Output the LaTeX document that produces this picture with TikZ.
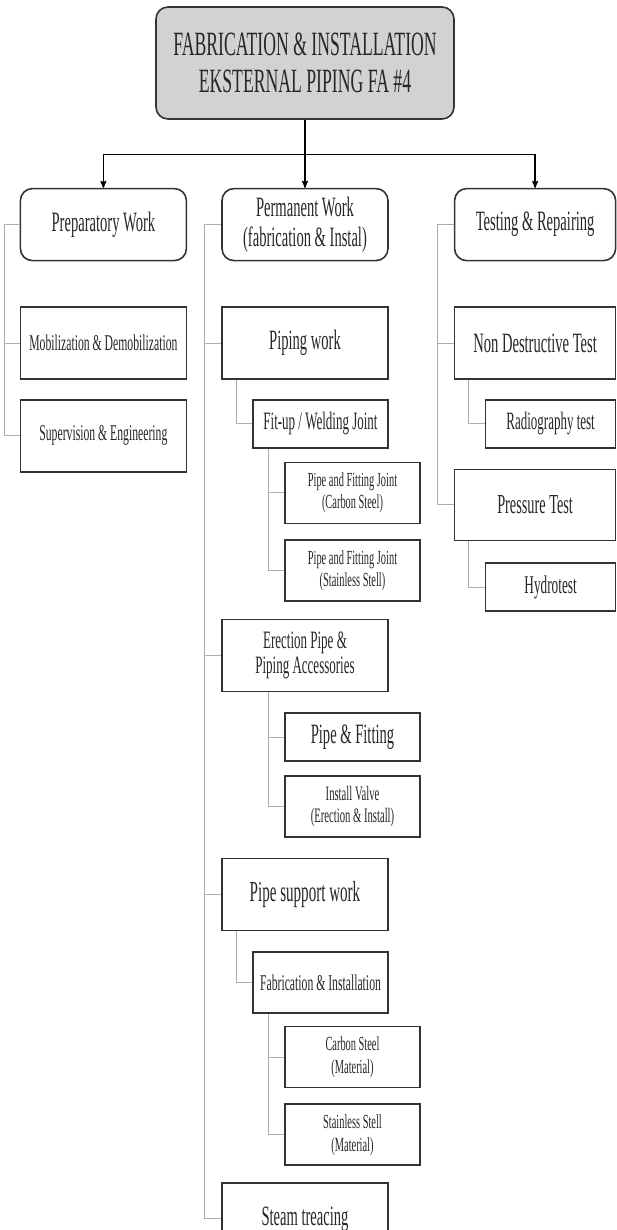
\documentclass[tikz,border=0pt]{standalone}
\usepackage{fontspec}
\setmainfont{Liberation Serif}[FakeStretch=0.52]
\usetikzlibrary{positioning, arrows}
\tikzset{
>=stealth', % arrow heads
every node/.style={text=black!85},
topbox/.style={draw=black!80, line width=1.6pt, rounded corners=12pt, fill=gray!35, minimum width=298pt, minimum height=112pt, align=center, font=\fontsize{34}{37}\selectfont},
headbox/.style={draw=black!80, line width=1.6pt, rounded corners=12pt, minimum width=166pt, minimum height=72pt, align=center, font=\fontsize{28}{30}\selectfont},
bigbox/.style={draw=black!80, line width=1.6pt, minimum width=166pt, minimum height=72pt, align=center, font=\fontsize{28}{30}\selectfont},
midbox/.style={draw=black!80, line width=1.6pt, minimum width=135pt, minimum height=48pt, align=center, font=\fontsize{25}{27}\selectfont},
smallbox/.style={draw=black!80, line width=1.6pt, minimum width=135pt, minimum height=61pt, align=center, font=\fontsize{20}{22}\selectfont},
branch/.style={draw=gray!65, line width=0.9pt}, % thin grey tree lines
arrow/.style={->, draw=black, line width=1.4pt},
}
\begin{document}
\begin{tikzpicture}[x=1pt, y=1pt]
\useasboundingbox (0,0) rectangle (616,-1230);
% root and the three work groups
\node[topbox] (root) at (305,-63) {FABRICATION \& INSTALLATION\\EKSTERNAL PIPING FA \#4};
\node[headbox, below=68pt of root] (perm) {Permanent Work\\(fabrication \& Instal)};
\node[headbox, left=34pt of perm] (prep) {Preparatory Work};
\node[headbox, right=65pt of perm, minimum width=161pt] (test) {Testing \& Repairing};

% preparatory work
\node[bigbox, below=45pt of prep, font=\fontsize{22.5}{24}\selectfont] (mobil) {Mobilization \& Demobilization};
\node[bigbox, below=19pt of mobil, font=\fontsize{22.5}{24}\selectfont] (superv) {Supervision \& Engineering};

% permanent work
\node[bigbox, below=45pt of perm] (pipwork) {Piping work};
\node[midbox, below=19pt of pipwork.south east, anchor=north east] (fitup) {Fit-up / Welding Joint};
\node[smallbox, below=13pt of fitup.south east, anchor=north east, xshift=32pt] (pfcs) {Pipe and Fitting Joint\\(Carbon Steel)};
\node[smallbox, below=15pt of pfcs] (pfss) {Pipe and Fitting Joint\\(Stainless Stell)};
\node[bigbox, below=17pt of pfss.south west, anchor=north west, xshift=-63pt, font=\fontsize{25}{25}\selectfont] (erect) {Erection Pipe \&\\Piping Accessories};
\node[midbox, below=20pt of erect.south east, anchor=north east, xshift=32pt, font=\fontsize{28}{30}\selectfont] (pf) {Pipe \& Fitting};
\node[smallbox, below=13pt of pf, font=\fontsize{20.5}{22}\selectfont] (valve) {Install Valve\\(Erection \& Install)};
\node[bigbox, below=20pt of valve.south west, anchor=north west, xshift=-63pt, font=\fontsize{29}{30}\selectfont] (support) {Pipe support work};
\node[smallbox, below=20pt of support.south east, anchor=north east, font=\fontsize{22.5}{24}\selectfont] (fabinst) {Fabrication \& Installation};
\node[smallbox, below=12pt of fabinst.south east, anchor=north east, xshift=32pt, font=\fontsize{20}{23}\selectfont] (cs) {Carbon Steel\\(Material)};
\node[smallbox, below=15pt of cs, font=\fontsize{20}{23}\selectfont] (ss) {Stainless Stell\\(Material)};
\node[bigbox, below=16pt of ss.south west, anchor=north west, xshift=-63pt] (steam) {Steam treacing};

% testing and repairing
\node[bigbox, minimum width=161pt, below=45pt of test] (ndt) {Non Destructive Test};
\node[midbox, minimum width=130pt, below=19pt of ndt.south east, anchor=north east] (radio) {Radiography test};
\node[bigbox, minimum width=161pt, minimum height=71pt, below=20pt of radio.south east, anchor=north east, font=\fontsize{27.5}{30}\selectfont] (press) {Pressure Test};
\node[midbox, minimum width=130pt, below=21pt of press.south east, anchor=north east, font=\fontsize{25.5}{27}\selectfont] (hydro) {Hydrotest};

% arrows from the root
\coordinate (split) at ([yshift=-35pt]root.south);
\draw[arrow] (root.south) -- (perm.north);
\draw[arrow] (split) -| (prep.north);
\draw[arrow] (split) -| (test.north);

% tree lines
\draw[branch] (prep.west) -- ++(-15pt,0) |- (superv.west);
\draw[branch] (mobil.west) -- ++(-15pt,0);
\draw[branch] (perm.west) -- ++(-17pt,0) |- (steam.west);
\foreach \n in {pipwork, erect, support}
  \draw[branch] (\n.west) -- ++(-17pt,0);
\draw[branch] ([xshift=15pt]pipwork.south west) |- (fitup.west);
\draw[branch] ([xshift=16pt]fitup.south west) |- (pfss.west);
\draw[branch] (pfcs.west) -- ++(-16pt,0);
\draw[branch] ([xshift=47pt]erect.south west) |- (valve.west);
\draw[branch] (pf.west) -- ++(-16pt,0);
\draw[branch] ([xshift=15pt]support.south west) |- (fabinst.west);
\draw[branch] ([xshift=16pt]fabinst.south west) |- (ss.west);
\draw[branch] (cs.west) -- ++(-16pt,0);
\draw[branch] (test.west) -- ++(-16pt,0) |- (press.west);
\draw[branch] (ndt.west) -- ++(-16pt,0);
\draw[branch] ([xshift=15pt]ndt.south west) |- (radio.west);
\draw[branch] ([xshift=15pt]press.south west) |- (hydro.west);
\end{tikzpicture}
\end{document}
